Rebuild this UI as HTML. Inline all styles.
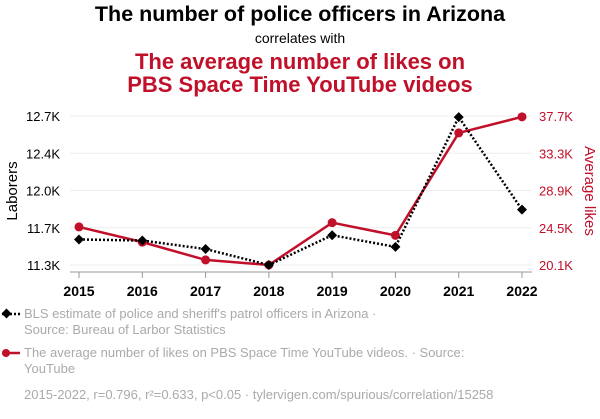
<!DOCTYPE html>
<html><head><meta charset="utf-8"><style>
body{margin:0;background:#fff;font-family:"Liberation Sans",sans-serif}
</style></head><body>
<svg id="c" width="600" height="414" xmlns="http://www.w3.org/2000/svg" font-family="Liberation Sans, sans-serif">
<text x="300" y="21" text-anchor="middle" font-size="21.5" font-weight="bold" fill="#000">The number of police officers in Arizona</text>
<text x="300" y="43" text-anchor="middle" font-size="14" fill="#000">correlates with</text>
<text x="300" y="69" text-anchor="middle" font-size="22" font-weight="bold" fill="#c0102a">The average number of likes on</text>
<text x="300" y="92" text-anchor="middle" font-size="22" font-weight="bold" fill="#c0102a">PBS Space Time YouTube videos</text>
<g id="grid"></g>
<line x1="70" y1="272" x2="532" y2="272" stroke="#999"/>
<g id="axes"></g>
<text transform="translate(17,191) rotate(-90)" text-anchor="middle" font-size="15" fill="#000">Laborers</text>
<text transform="translate(585,191) rotate(90)" text-anchor="middle" font-size="15" fill="#c0102a">Average likes</text>
<g id="series"></g>
<g>
<line x1="2" y1="314" x2="20" y2="314" stroke="#000" stroke-width="2.5" stroke-dasharray="2,2"/>
<rect x="3" y="310" width="7" height="7" fill="#000" transform="rotate(45 6.5 313.5)"/>
<text x="24" y="318" font-size="13" fill="#aaa">BLS estimate of police and sheriff's patrol officers in Arizona ·</text>
<text x="24" y="334" font-size="13" fill="#aaa">Source: Bureau of Larbor Statistics</text>
</g>
<g>
<line x1="2" y1="353" x2="20" y2="353" stroke="#c0102a" stroke-width="2.5"/>
<circle cx="6" cy="353" r="4" fill="#c0102a"/>
<text x="24" y="357" font-size="13" fill="#aaa">The average number of likes on PBS Space Time YouTube videos. · Source:</text>
<text x="24" y="373" font-size="13" fill="#aaa">YouTube</text>
</g>
<text x="24" y="399" font-size="13" fill="#aaa">2015-2022, r=0.796, r²=0.633, p&lt;0.05 · tylervigen.com/spurious/correlation/15258</text>
</svg>
<script>
const years=[2015,2016,2017,2018,2019,2020,2021,2022];
const police=[11.54,11.53,11.45,11.30,11.58,11.47,12.69,11.82];
const likes=[24.6,22.8,20.7,20.1,25.1,23.6,35.7,37.6];
const leftTicks=["11.3K","11.7K","12.0K","12.4K","12.7K"];
const leftTickVals=[11.3,11.65,12.0,12.35,12.7];
const rightTicks=["20.1K","24.5K","28.9K","33.3K","37.7K"];
const rightTickVals=[20.1,24.5,28.9,33.3,37.7];
const NS="http://www.w3.org/2000/svg";
const xS=y=>79+(y-2015)*(522-79)/7;
const yL=v=>265-(v-11.3)*(265-116)/1.4;
const yR=v=>265-(v-20.1)*(265-116)/17.6;
function mk(t,a,p){const e=document.createElementNS(NS,t);for(const k in a)e.setAttribute(k,a[k]);p.appendChild(e);return e;}
const grid=document.getElementById('grid'),axes=document.getElementById('axes'),ser=document.getElementById('series');
leftTickVals.forEach((v,i)=>{
 const g=mk('line',{x1:70,x2:532,y1:yL(v),y2:yL(v),stroke:'#eee'},grid);
 
 
 const t=mk('text',{x:60,y:yL(v)+5,'text-anchor':'end','font-size':13,fill:'#000'},axes);t.textContent=leftTicks[i];
 
 
});
rightTickVals.forEach((v,i)=>{
 const t=mk('text',{x:539,y:yR(v)+5,'font-size':13,fill:'#c0102a'},axes);t.textContent=rightTicks[i];
 
 
});
years.forEach(y=>{
 mk('line',{x1:xS(y),x2:xS(y),y1:272,y2:278,stroke:'#999'},axes);
 const t=mk('text',{x:xS(y),y:296,'text-anchor':'middle','font-size':14,'font-weight':'bold',fill:'#000'},axes);t.textContent=y;
 
 
});
const rl=mk('polyline',{points:years.map((y,i)=>xS(y)+','+yR(likes[i])).join(' '),fill:'none',stroke:'#c0102a','stroke-width':2.5},ser);


years.forEach((y,i)=>{const c=mk('circle',{cx:xS(y),cy:yR(likes[i]),r:4.5,fill:'#c0102a'},ser);
 
 });
const bl=mk('polyline',{points:years.map((y,i)=>xS(y)+','+yL(police[i])).join(' '),fill:'none',stroke:'#000','stroke-width':2.5,'stroke-dasharray':'2,2'},ser);


years.forEach((y,i)=>{const x=xS(y),yy=yL(police[i]);const d=mk('polygon',{points:`${x},${yy-5} ${x+5},${yy} ${x},${yy+5} ${x-5},${yy}`,fill:'#000'},ser);
 
 });
</script>
</body></html>
